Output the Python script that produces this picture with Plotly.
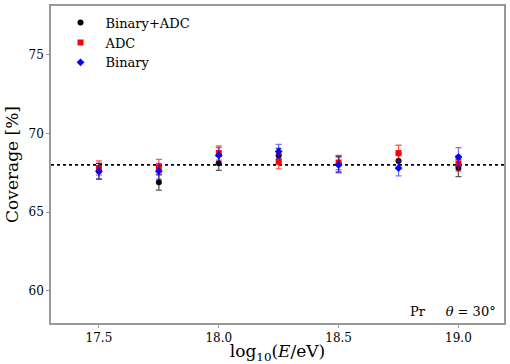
import plotly.graph_objects as go

# energy bins and coverage values
log_e = [17.5, 17.75, 18.0, 18.25, 18.5, 18.75, 19.0]

cov_both = [67.6, 66.9, 68.1, 68.6, 68.05, 68.25, 67.8]
err_both = [0.5, 0.5, 0.45, 0.45, 0.5, 0.5, 0.55]

cov_adc = [67.8, 67.85, 68.75, 68.2, 68.15, 68.75, 68.1]
err_adc = [0.45, 0.5, 0.45, 0.45, 0.45, 0.5, 0.5]

cov_bin = [67.6, 67.6, 68.6, 68.85, 68.0, 67.8, 68.5]
err_bin = [0.5, 0.5, 0.5, 0.45, 0.5, 0.5, 0.6]

reference_level = 68.0

y_ticks = [60, 65, 70, 75]
x_ticks = [17.5, 18.0, 18.5, 19.0]
x_tick_labels = ["17.5", "18.0", "18.5", "19.0"]

serif = "DejaVu Serif, Liberation Serif, serif"

fig = go.Figure()

fig.add_hline(y=reference_level, line=dict(color="black", width=1.6, dash="dot"), layer="below")

series = [
    ("Binary+ADC", cov_both, err_both, "black", "rgba(0,0,0,0.65)", "circle"),
    ("ADC", cov_adc, err_adc, "red", "rgba(255,0,0,0.65)", "square"),
    ("Binary", cov_bin, err_bin, "blue", "rgba(0,0,255,0.55)", "diamond"),
]
for name, vals, errs, col, ecol, sym in series:
    fig.add_trace(go.Scatter(
        x=log_e, y=vals, mode="markers", name=name,
        marker=dict(color=col, size=6, symbol=sym),
        error_y=dict(type="data", array=errs, visible=True,
                     color=ecol, thickness=1.3, width=3),
    ))

fig.add_annotation(x=1.0, y=0.0, xref="paper", yref="paper",
                   xanchor="right", yanchor="bottom", xshift=-6, yshift=2,
                   showarrow=False,
                   text="Pr&nbsp;&nbsp;&nbsp;&nbsp;&nbsp;<i>θ</i> = 30°",
                   font=dict(family=serif, size=13, color="black"))

fig.update_layout(
    width=510, height=364,
    margin=dict(l=51, r=5, t=4, b=41),
    plot_bgcolor="white", paper_bgcolor="white",
    font=dict(family=serif, size=13, color="black"),
    showlegend=True,
    legend=dict(x=0.01, y=0.995, xanchor="left", yanchor="top",
                bgcolor="rgba(0,0,0,0)", font=dict(family=serif, size=13),
                itemwidth=40, tracegroupgap=2),
    xaxis=dict(range=[17.3, 19.19], tickvals=x_ticks, ticktext=x_tick_labels,
               showgrid=False, zeroline=False, showline=True, mirror=True,
               linecolor="#999", linewidth=1.5, ticks="outside", ticklen=3,
               tickcolor="#999", tickfont=dict(family=serif, size=12),
               title=dict(text="log<sub>10</sub>(<i>E</i>/eV)",
                          font=dict(family=serif, size=17), standoff=2)),
    yaxis=dict(range=[57.95, 78.1], tickvals=y_ticks,
               showgrid=False, zeroline=False, showline=True, mirror=True,
               linecolor="#999", linewidth=1.5, ticks="outside", ticklen=3,
               tickcolor="#999", tickfont=dict(family=serif, size=12),
               title=dict(text="Coverage [%]",
                          font=dict(family=serif, size=17), standoff=6)),
)

fig.write_html("out.html", config={"displayModeBar": False},
               post_script="document.body.style.margin='0';")
